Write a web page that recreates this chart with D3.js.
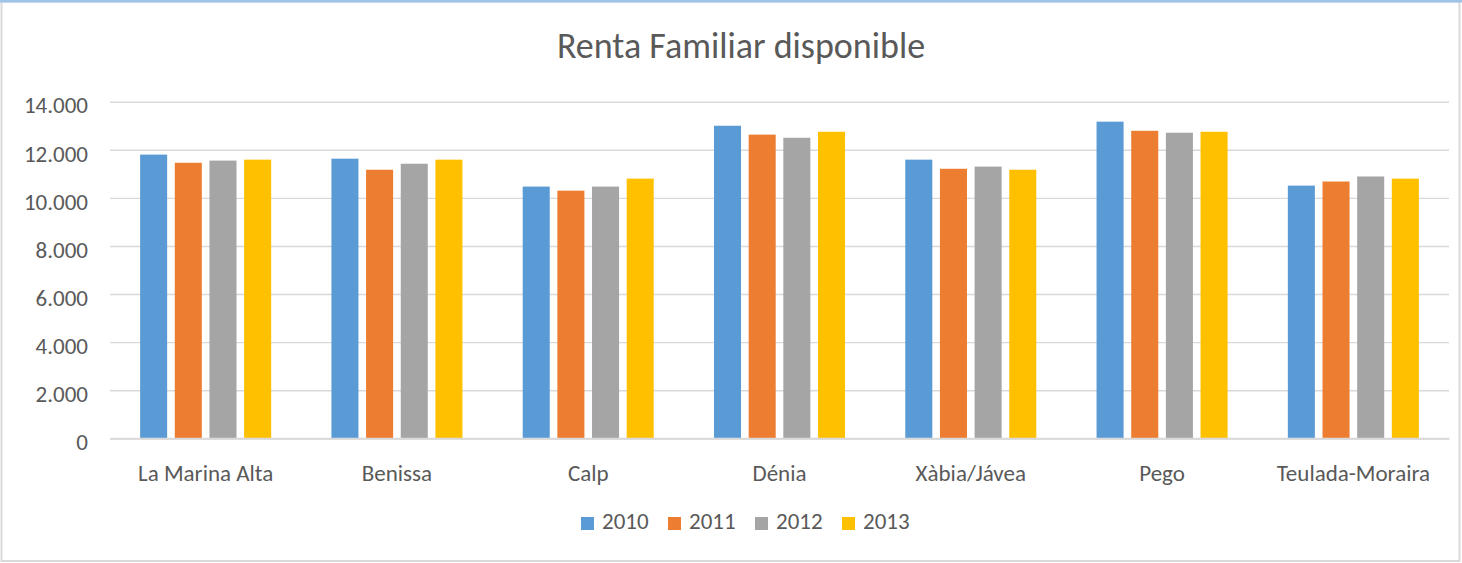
<!DOCTYPE html>
<html>
<head>
<meta charset="utf-8">
<script src="https://cdn.jsdelivr.net/npm/d3@7"></script>
<style>
  html, body { margin: 0; padding: 0; background: #ffffff; }
  svg { display: block; }
  text { font-family: Carlito, Calibri, Lato, "Open Sans", sans-serif; fill: #595959; }
</style>
</head>
<body>
<svg id="chart" width="1462" height="563"></svg>
<script>
const title = "Renta Familiar disponible";
const categories = ["La Marina Alta", "Benissa", "Calp", "Dénia", "Xàbia/Jávea", "Pego", "Teulada-Moraira"];
const years = ["2010", "2011", "2012", "2013"];
const values2010 = [11800, 11630, 10470, 13000, 11590, 13170, 10510];
const values2011 = [11460, 11170, 10300, 12630, 11210, 12790, 10680];
const values2012 = [11550, 11420, 10470, 12500, 11300, 12710, 10890];
const values2013 = [11590, 11590, 10800, 12750, 11170, 12750, 10800];
const yTicks = [0, 2000, 4000, 6000, 8000, 10000, 12000, 14000];
const colors = ["#5B9BD5", "#ED7D31", "#A5A5A5", "#FFC000"];

const series = [values2010, values2011, values2012, values2013];
const table = categories.map((c, i) => ({
  category: c,
  values: years.map((y, j) => ({ year: y, value: series[j][i] }))
}));

const svg = d3.select("#chart");
const W = 1462, H = 563;

// chart border
svg.append("rect").attr("x", 1.5).attr("y", 1.5).attr("width", W - 4).attr("height", H - 3.5)
  .attr("fill", "#fff").attr("stroke", "#D9D9D9").attr("stroke-width", 2);
svg.append("line").attr("x1", 0).attr("x2", W).attr("y1", 1).attr("y2", 1)
  .attr("stroke", "#9DC3E6").attr("stroke-width", 3);

const plot = { left: 110, right: 1449, top: 101.7, bottom: 438.3 };

const x0 = d3.scaleBand().domain(categories).range([plot.left, plot.right]).paddingInner(0).paddingOuter(0);
const groupFrac = 0.685;
const x1 = d3.scaleBand().domain(years)
  .range([x0.bandwidth() * (1 - groupFrac) / 2, x0.bandwidth() * (1 + groupFrac) / 2])
  .paddingInner(0.22).paddingOuter(0);
const y = d3.scaleLinear().domain([0, 14000]).range([plot.bottom, plot.top]);

const locale = d3.formatLocale({ decimal: ",", thousands: ".", grouping: [3], currency: ["", "€"] });
const fmt = locale.format(",d");

// gridlines + y labels
const yAxis = d3.axisLeft(y).tickValues(yTicks).tickSize(-(plot.right - plot.left)).tickPadding(22).tickFormat(fmt);
const gy = svg.append("g").attr("transform", `translate(${plot.left},0)`).call(yAxis);
gy.select(".domain").remove();
gy.selectAll(".tick line").attr("stroke", "#D9D9D9").attr("stroke-width", 1.4);
gy.selectAll(".tick text").attr("fill", "#595959").style("font-size", "23px").attr("dy", "0.75em")
  .attr("y", -6);

// bars
const groups = svg.append("g").selectAll("g").data(table).join("g")
  .attr("transform", d => `translate(${x0(d.category)},0)`);
groups.selectAll("rect").data(d => d.values).join("rect")
  .attr("x", d => x1(d.year))
  .attr("width", x1.bandwidth())
  .attr("y", d => y(d.value))
  .attr("height", d => y(0) - y(d.value))
  .attr("fill", (d, i) => colors[i]);

// x axis
const xAxis = d3.axisBottom(x0).tickSize(0).tickPadding(26);
const gx = svg.append("g").attr("transform", `translate(0,${plot.bottom})`).call(xAxis);
gx.select(".domain").attr("stroke", "#D9D9D9").attr("stroke-width", 2);
gx.selectAll(".tick text").attr("fill", "#595959").style("font-size", "23px");

// title
svg.append("text").attr("x", 741).attr("y", 58.3).attr("text-anchor", "middle")
  .style("font-size", "36px").text(title);

// legend
const legendX = d3.scalePoint().domain(years).range([581, 842]);
const lg = svg.append("g").selectAll("g").data(years).join("g")
  .attr("transform", d => `translate(${legendX(d)},0)`);
lg.append("rect").attr("x", 0).attr("y", 517).attr("width", 13).attr("height", 13)
  .attr("fill", (d, i) => colors[i]);
lg.append("text").attr("x", 21).attr("y", 529.3).style("font-size", "23px").text(d => d);
</script>
</body>
</html>
